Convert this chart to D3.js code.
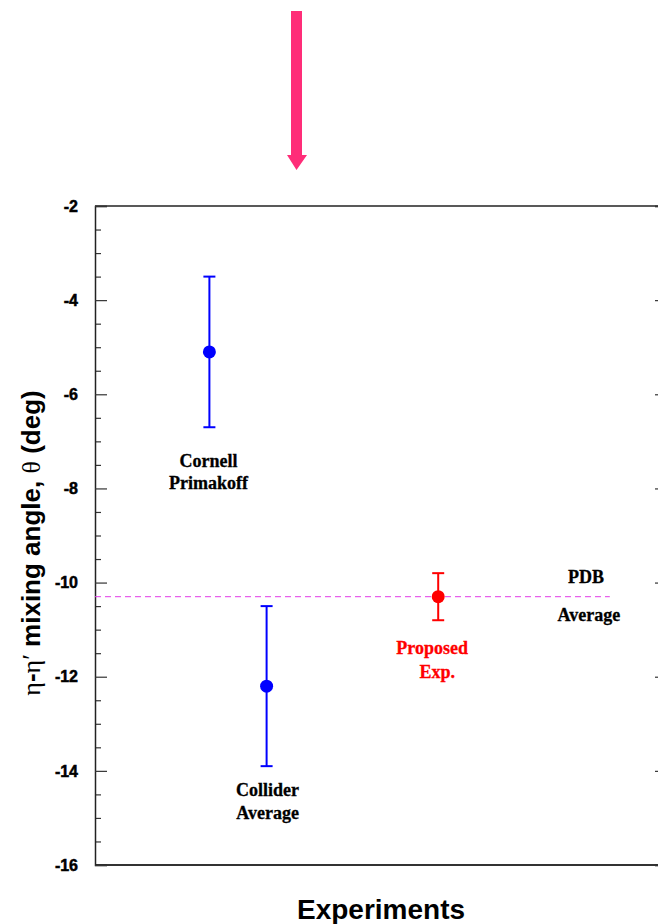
<!DOCTYPE html>
<html>
<head>
<meta charset="utf-8">
<script src="https://cdn.jsdelivr.net/npm/d3@7"></script>
<style>
  html, body { margin: 0; padding: 0; background: #fff; }
  svg { display: block; }
</style>
</head>
<body>
<svg id="chart" width="658" height="924"></svg>
<script>
// Measurements of the eta-eta' mixing angle (degrees)
const experiments = ["Cornell Primakoff", "Collider Average", "Proposed Exp."];
const positions   = [2, 3, 6];           // slot along the experiment axis
const angles      = [-5.1, -12.2, -10.3];
const errors      = [1.6, 1.7, 0.5];
const colors      = ["#0000ff", "#0000ff", "#ff0000"];
const pdbAverage  = -10.3;
const yTicks      = [-2, -4, -6, -8, -10, -12, -14, -16];

const svg = d3.select("#chart");
const sans = "Liberation Sans, Arial, sans-serif";
const serif = "Liberation Serif, Times New Roman, serif";

const x = d3.scaleLinear().domain([0, 10]).range([95, 667]);
const y = d3.scaleLinear().domain([-16, -2]).range([865, 206]);

// frame: top and bottom borders
svg.append("line").attr("x1", 95).attr("x2", 667).attr("y1", y(-2)).attr("y2", y(-2))
  .attr("stroke", "#222").attr("stroke-width", 1.5);
svg.append("line").attr("x1", 95).attr("x2", 667).attr("y1", y(-16)).attr("y2", y(-16))
  .attr("stroke", "#333").attr("stroke-width", 2);

// left axis with major and minor ticks pointing inward
const minor = d3.range(-16, -1.99, 0.5).filter(v => Math.abs(v % 2) > 1e-9);
const leftMinor = svg.append("g").attr("transform", "translate(95,0)")
  .call(d3.axisRight(y).tickValues(minor).tickSize(6).tickFormat(""));
leftMinor.select(".domain").remove();
leftMinor.selectAll(".tick line").attr("stroke", "#333").attr("stroke-width", 1.2);

const left = svg.append("g").attr("transform", "translate(95,0)")
  .call(d3.axisRight(y).tickValues(yTicks).tickSize(12).tickFormat(""));
left.select(".domain").attr("stroke", "#222").attr("stroke-width", 1.5);
left.selectAll(".tick line").attr("stroke", "#333").attr("stroke-width", 1.2);

// tick labels
svg.append("g").selectAll("text").data(yTicks).join("text")
  .attr("x", 78).attr("y", d => y(d)).attr("dy", "0.36em")
  .attr("text-anchor", "end")
  .attr("font-family", sans)
  .attr("font-weight", "bold").attr("font-size", 16)
  .attr("stroke", "#000").attr("stroke-width", 0.5)
  .text(d => d);

// right axis (major ticks only)
const right = svg.append("g").attr("transform", "translate(667,0)")
  .call(d3.axisLeft(y).tickValues(yTicks).tickSize(12).tickFormat(""));
right.select(".domain").attr("stroke", "#222").attr("stroke-width", 1.5);
right.selectAll(".tick line").attr("stroke", "#333").attr("stroke-width", 1.2);

// PDB average, dashed
svg.append("line")
  .attr("x1", x(0)).attr("x2", x(9))
  .attr("y1", y(pdbAverage)).attr("y2", y(pdbAverage))
  .attr("stroke", "#e23ce8").attr("stroke-width", 1)
  .attr("stroke-dasharray", "6,4");

// error bars and points
const pts = experiments.map((name, i) => ({
  name, x: positions[i], v: angles[i], e: errors[i], c: colors[i]
}));
const g = svg.append("g").selectAll("g").data(pts).join("g");
g.append("line")
  .attr("x1", d => x(d.x)).attr("x2", d => x(d.x))
  .attr("y1", d => y(d.v + d.e)).attr("y2", d => y(d.v - d.e))
  .attr("stroke", d => d.c).attr("stroke-width", 2);
g.append("line")
  .attr("x1", d => x(d.x) - 6).attr("x2", d => x(d.x) + 6)
  .attr("y1", d => y(d.v + d.e)).attr("y2", d => y(d.v + d.e))
  .attr("stroke", d => d.c).attr("stroke-width", 2);
g.append("line")
  .attr("x1", d => x(d.x) - 6).attr("x2", d => x(d.x) + 6)
  .attr("y1", d => y(d.v - d.e)).attr("y2", d => y(d.v - d.e))
  .attr("stroke", d => d.c).attr("stroke-width", 2);
g.append("circle")
  .attr("cx", d => x(d.x)).attr("cy", d => y(d.v)).attr("r", 6.5)
  .attr("fill", d => d.c);

// annotations
function note(lines, cx, ys, color) {
  lines.forEach((t, i) => {
    svg.append("text").attr("x", cx[i]).attr("y", ys[i])
      .attr("text-anchor", "middle")
      .attr("font-family", serif).attr("font-weight", "bold")
      .attr("font-size", 18).attr("fill", color)
      .attr("stroke", color).attr("stroke-width", 0.3)
      .text(t);
  });
}
note(["Cornell", "Primakoff"], [x(2) - 1, x(2) - 1], [467, 489], "#000");
note(["Collider", "Average"], [x(3) + 1, x(3) + 1], [796, 819], "#000");
note(["Proposed", "Exp."], [x(6) - 6, x(6) - 1], [654, 678], "#ff0000");
note(["PDB", "Average"], [x(8.6) - 1, x(8.6) + 2], [583, 621], "#000");

// axis titles
svg.append("text")
  .attr("x", 381).attr("y", 919).attr("text-anchor", "middle")
  .attr("font-family", sans)
  .attr("font-weight", "bold").attr("font-size", 28)
  .text("Experiments");

const yt = svg.append("text")
  .attr("transform", "translate(40,543) rotate(-90)")
  .attr("text-anchor", "middle")
  .attr("font-family", sans)
  .attr("font-weight", "bold").attr("font-size", 26);
yt.append("tspan").attr("font-weight", "normal").attr("font-family", serif).text("η");
yt.append("tspan").text("-");
yt.append("tspan").attr("font-weight", "normal").attr("font-family", serif).text("η′");
yt.append("tspan").text(" mixing angle, ");
yt.append("tspan").attr("font-weight", "normal").attr("font-family", serif).text("θ");
yt.append("tspan").text(" (deg)");

// pointer arrow above the chart
const arrow = d3.path();
arrow.moveTo(291, 11);
arrow.lineTo(302, 11);
arrow.lineTo(302, 155);
arrow.lineTo(307, 155);
arrow.lineTo(296.5, 170);
arrow.lineTo(287, 155);
arrow.lineTo(291, 155);
arrow.closePath();
svg.append("path").attr("d", arrow.toString()).attr("fill", "#ff2d78");
</script>
</body>
</html>
